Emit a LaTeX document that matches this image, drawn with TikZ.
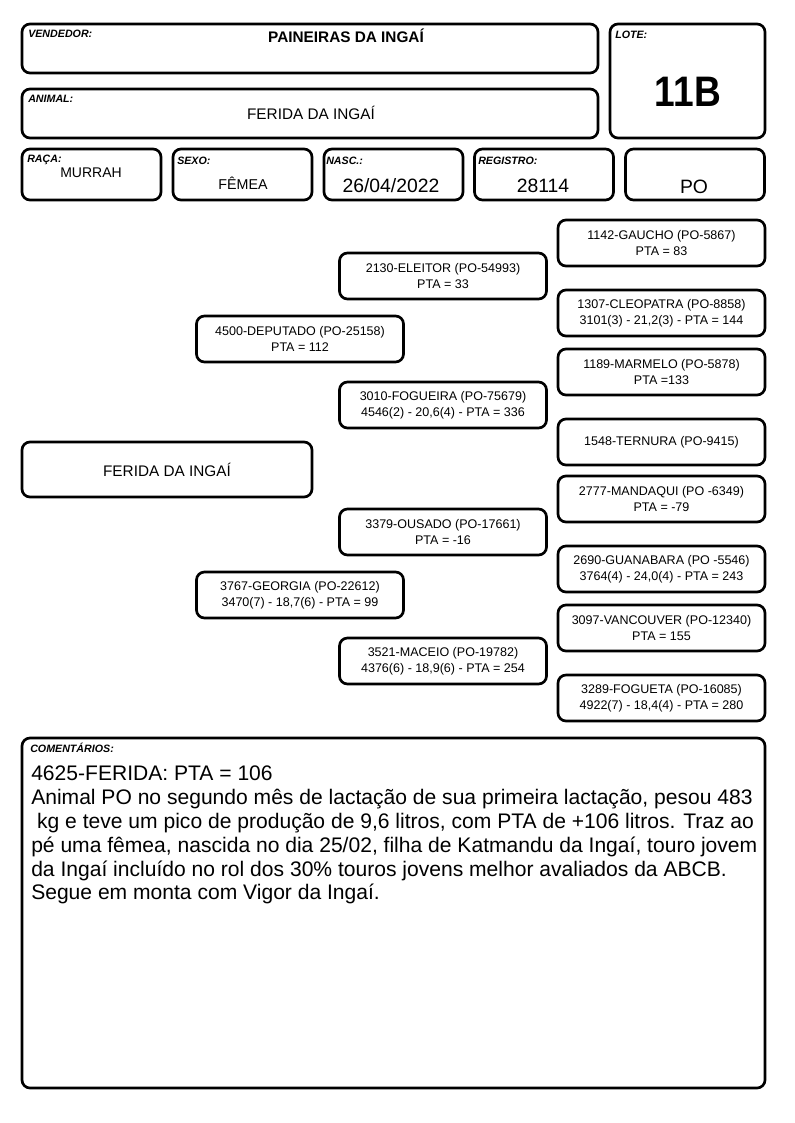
\documentclass[tikz,border=0pt]{standalone}
\usepackage{fontspec}
\setmainfont{Liberation Sans}
\newfontfamily\lotefont[FakeStretch=0.87]{Liberation Sans}

\begin{document}
\begin{tikzpicture}[x=0.75pt,y=-0.75pt,
  box/.style={draw,line width=2pt,rounded corners=6pt,inner sep=0pt,align=center},
  field/.style={box,minimum width=104.25pt,minimum height=38.25pt},
  ped/.style={box,minimum width=155.25pt,minimum height=34.5pt,font=\fontsize{9.4}{12}\selectfont},
  tag/.style={anchor=base west,inner sep=0pt,font=\fontsize{8}{9}\selectfont\bfseries\itshape},
  val/.style={anchor=base,inner sep=0pt,font=\fontsize{14.5}{17}\selectfont}]
\useasboundingbox (0,0) rectangle (794,1123);

% header
\node[box,minimum width=432pt,minimum height=36.75pt] (vendedor) at (310,48.5) {};
\node[box,minimum width=432pt,minimum height=36.75pt] (animal) at (310,113.5) {};
\node[box,minimum width=116.25pt,minimum height=85.5pt] (lote) at (687.5,81) {};
\node[tag] (tvend) at (28,38) {VENDEDOR:};
\node[tag] (tanim) at (28,103) {ANIMAL:};
\node[tag] (tlote) at (615,39) {LOTE:};
\node[val,font=\fontsize{11.5}{14}\selectfont\bfseries] (nvend) at (346,42.5) {PAINEIRAS DA INGAÍ};
\node[val,font=\fontsize{11.5}{14}\selectfont] (nanim) at (311,120) {FERIDA DA INGAÍ};
\node[val,font=\fontsize{32}{36}\lotefont\bfseries] (nlote) at (688,106.5) {11B};

% fields
\node[field] (raca) at (91.5,174.5) {};
\node[field] (sexo) at (242.5,174.5) {};
\node[field] (nasc) at (393.5,174.5) {};
\node[field] (registro) at (544,174.5) {};
\node[field] (categ) at (695,174.5) {};
\node[tag] (traca) at (27,163) {RAÇA:};
\node[tag] (tsexo) at (177,165) {SEXO:};
\node[tag] (tnasc) at (326,165) {NASC.:};
\node[tag] (treg) at (478,165) {REGISTRO:};
\node[val,font=\fontsize{10.5}{12}\selectfont] (nraca) at (91,177.5) {MURRAH};
\node[val,font=\fontsize{10.7}{12}\selectfont] (nsexo) at (243,189.5) {FÊMEA};
\node[val] (nnasc) at (391,193) {26/04/2022};
\node[val] (nreg) at (543,193) {28114};
\node[val] (ncateg) at (694,194) {PO};

% pedigree
\node[box,minimum width=217.5pt,minimum height=41.25pt,font=\fontsize{11.5}{14}\selectfont] (ferida) at (167,469.5) {FERIDA DA INGAÍ};
\node[ped] (deputado) at (300,339) {4500-DEPUTADO (PO-25158)\\PTA = 112};
\node[ped] (georgia) at (300,595) {3767-GEORGIA (PO-22612)\\3470(7) - 18,7(6) - PTA = 99};
\foreach \n/\y/\txt in {eleitor/276/{2130-ELEITOR (PO-54993)\\PTA = 33},
  fogueira/405/{3010-FOGUEIRA (PO-75679)\\4546(2) - 20,6(4) - PTA = 336},
  ousado/532/{3379-OUSADO (PO-17661)\\PTA = -16},
  maceio/661/{3521-MACEIO (PO-19782)\\4376(6) - 18,9(6) - PTA = 254}}
  \node[ped] (\n) at (443,\y) {\txt};
\foreach \n/\y/\txt in {gaucho/243/{1142-GAUCHO (PO-5867)\\PTA = 83},
  cleopatra/313/{1307-CLEOPATRA (PO-8858)\\3101(3) - 21,2(3) - PTA = 144},
  marmelo/372/{1189-MARMELO (PO-5878)\\PTA =133},
  ternura/442/{1548-TERNURA (PO-9415)},
  mandaqui/499/{2777-MANDAQUI (PO -6349)\\PTA = -79},
  guanabara/569/{2690-GUANABARA (PO -5546)\\3764(4) - 24,0(4) - PTA = 243},
  vancouver/628/{3097-VANCOUVER (PO-12340)\\PTA = 155},
  fogueta/698/{3289-FOGUETA (PO-16085)\\4922(7) - 18,4(4) - PTA = 280}}
  \node[ped] (\n) at (661.5,\y) {\txt};

% comments
\node[box,minimum width=557.25pt,minimum height=262.5pt] (coment) at (393.5,913) {};
\node[tag] (tcom) at (30,752) {COMENTÁRIOS:};
\node[anchor=north west,inner sep=0pt,align=left,font=\fontsize{15.8}{17.85}\selectfont] (ncom) at (31,766)
  {4625-FERIDA: PTA = 106\\
   Animal PO no segundo mês de lactação de sua primeira lactação, pesou 483\\
   \hspace*{.28em}kg e teve um pico de produção de 9,6 litros, com PTA de +106 litros. Traz ao\\
   pé uma fêmea, nascida no dia 25/02, filha de Katmandu da Ingaí, touro jovem\\
   da Ingaí incluído no rol dos 30\% touros jovens melhor avaliados da ABCB.\\
   Segue em monta com Vigor da Ingaí.};
\end{tikzpicture}
\end{document}
